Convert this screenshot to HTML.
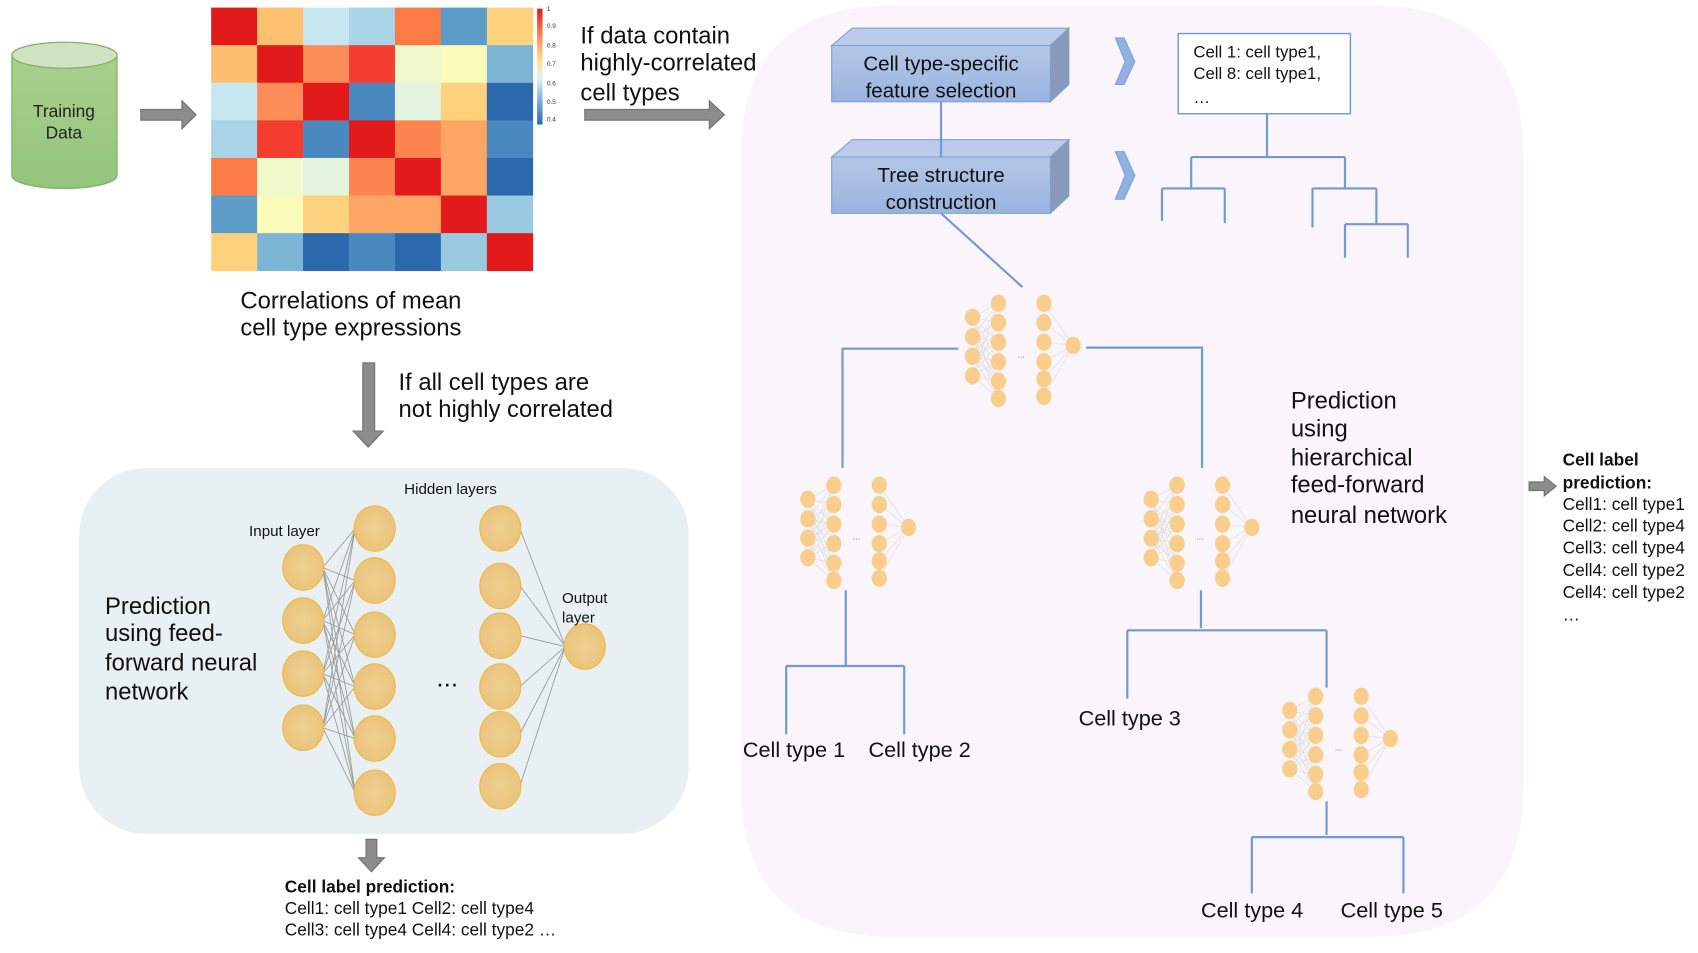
<!DOCTYPE html>
<html><head><meta charset="utf-8"><style>
html,body{margin:0;padding:0;background:#fff;}
svg{display:block;font-family:"Liberation Sans",sans-serif;}
</style></head><body>
<svg id="s" width="1698" height="953" viewBox="0 0 1568 880" preserveAspectRatio="none" xmlns="http://www.w3.org/2000/svg">
<defs>
<linearGradient id="cyl" x1="0" y1="0" x2="0" y2="1"><stop offset="0" stop-color="#a9d08e"/><stop offset="1" stop-color="#93c47d"/></linearGradient>
<linearGradient id="box" x1="0" y1="0" x2="0" y2="1"><stop offset="0" stop-color="#b3c6e7"/><stop offset="1" stop-color="#9ab4e0"/></linearGradient>
<radialGradient id="node" cx="0.5" cy="0.5" r="0.6"><stop offset="0" stop-color="#f0cf90"/><stop offset="1" stop-color="#e8c27a"/></radialGradient>
</defs>
<rect x="0" y="0" width="1568" height="880" fill="#fff"/>
<!-- panels -->
<rect x="73" y="432" width="563" height="338" rx="62" fill="#e8f0f3"/>
<path d="M824 5 H1267 Q1407 5 1407 145 V725 Q1407 865 1267 865 H824 Q684 865 684 725 V145 Q684 5 824 5 Z" fill="#f9f5fb"/>
<!-- cylinder -->
<path d="M11 51 V162 A48.5 12 0 0 0 108 162 V51" fill="url(#cyl)" stroke="#82b366" stroke-width="1.2"/>
<ellipse cx="59.5" cy="51" rx="48.5" ry="12" fill="#cfe3c3" stroke="#82b366" stroke-width="1.2"/>
<text x="59" y="108" font-size="16" text-anchor="middle" fill="#222">Training</text>
<text x="59" y="128" font-size="16" text-anchor="middle" fill="#222">Data</text>
<!-- arrows -->
<g fill="#8c8c8c" stroke="#707070" stroke-width="1">
<path d="M130 101 H168 V93 L181 106 L168 119 V111 H130 Z"/>
<path d="M540 101 H655 V93 L669 106 L655 119 V111 H540 Z"/>
<path d="M335 335 H346 V398 H354 L340 413 L326 398 H335 Z"/>
<path d="M338 775 H348 V792 H355 L343 805 L331 792 H338 Z"/>
<path d="M1412 445 H1426 V440 L1437 449 L1426 458 V453 H1412 Z"/>
</g>
<g id="heat"></g>
<!-- colorbar -->
<defs><linearGradient id="cb" x1="0" y1="0" x2="0" y2="1"><stop offset="0" stop-color="#e31a1c"/><stop offset="0.25" stop-color="#fc8d59"/><stop offset="0.45" stop-color="#fee090"/><stop offset="0.6" stop-color="#e0f3f8"/><stop offset="0.8" stop-color="#74add1"/><stop offset="1" stop-color="#2c69ac"/></linearGradient></defs>
<rect x="496" y="8" width="5" height="107" fill="url(#cb)"/>
<g font-size="6" fill="#333"><text x="505" y="10">1</text><text x="505" y="26">0.9</text><text x="505" y="44">0.8</text><text x="505" y="61">0.7</text><text x="505" y="79">0.6</text><text x="505" y="96">0.5</text><text x="505" y="112">0.4</text></g>
<g font-size="22" fill="#111">
<text x="536" y="40">If data contain</text><text x="536" y="65">highly-correlated</text><text x="536" y="93">cell types</text>
<text x="222" y="285">Correlations of mean</text><text x="222" y="310">cell type expressions</text>
<text x="368" y="360">If all cell types are</text><text x="368" y="385">not highly correlated</text>
<text x="97" y="567">Prediction</text><text x="97" y="592">using feed-</text><text x="97" y="619">forward neural</text><text x="97" y="646">network</text>
<text x="1192" y="377">Prediction</text><text x="1192" y="403">using</text><text x="1192" y="430">hierarchical</text><text x="1192" y="455">feed-forward</text><text x="1192" y="483">neural network</text>
<text x="686" y="699" font-size="20">Cell type 1</text><text x="802" y="699" font-size="20">Cell type 2</text>
<text x="996" y="670" font-size="20">Cell type 3</text>
<text x="1109" y="847" font-size="20">Cell type 4</text><text x="1238" y="847" font-size="20">Cell type 5</text>
</g>
<g font-size="14" fill="#111">
<text x="416" y="456" text-anchor="middle">Hidden layers</text>
<text x="230" y="495">Input layer</text>
<text x="519" y="557">Output</text><text x="519" y="575">layer</text>
</g>
<text x="413" y="634" font-size="24" text-anchor="middle" fill="#111">...</text>
<g font-size="16" fill="#111">
<text x="263" y="824" font-weight="bold">Cell label prediction:</text>
<text x="263" y="844">Cell1: cell type1 Cell2: cell type4</text>
<text x="263" y="864">Cell3: cell type4 Cell4: cell type2 …</text>
<text x="1443" y="430" font-weight="bold">Cell label</text>
<text x="1443" y="451" font-weight="bold">prediction:</text>
<text x="1443" y="471">Cell1: cell type1</text>
<text x="1443" y="491">Cell2: cell type4</text>
<text x="1443" y="511">Cell3: cell type4</text>
<text x="1443" y="532">Cell4: cell type2</text>
<text x="1443" y="552">Cell4: cell type2</text>
<text x="1443" y="573">…</text>
</g>
<!-- 3D boxes -->
<g stroke="#7e9fd6" stroke-width="1">
<path d="M768 42 L787 26 H987 L970 42 Z" fill="#bccbea"/>
<path d="M970 42 L987 26 V78 L970 94 Z" fill="#8899bb"/>
<rect x="768" y="42" width="202" height="52" fill="url(#box)"/>
<path d="M768 145 L787 129 H987 L970 145 Z" fill="#bccbea"/>
<path d="M970 145 L987 129 V181 L970 197 Z" fill="#8899bb"/>
<rect x="768" y="145" width="202" height="52" fill="url(#box)"/>
</g>
<g font-size="19" fill="#111" text-anchor="middle">
<text x="869" y="65">Cell type-specific</text><text x="869" y="90">feature selection</text>
<text x="869" y="168">Tree structure</text><text x="869" y="193">construction</text>
</g>
<g fill="#93b1e0" stroke="#7e9fd6"><path d="M1030 35 H1038 L1048 57 L1038 78 H1030 L1039 57 Z"/><path d="M1030 140 H1038 L1048 162 L1038 184 H1030 L1039 162 Z"/></g>
<rect x="1088" y="31" width="159" height="74" fill="#fff" stroke="#6f99d8" stroke-width="1.3"/>
<g font-size="15.5" fill="#111"><text x="1102" y="53">Cell 1: cell type1,</text><text x="1102" y="73">Cell 8: cell type1,</text><text x="1102" y="95">…</text></g>
<g fill="none" stroke="#6f99d8" stroke-width="2">
<path d="M869 94 V145"/><path d="M869 197 L944 265"/>
<path d="M1170 105 V145 M1100 145 H1242 M1100 145 V174 M1073 174 H1131 M1073 174 V204 M1131 174 V206 M1242 145 V174 M1212 174 H1271 M1212 174 V210 M1271 174 V207 M1242 207 H1300 M1242 207 V238 M1300 207 V238"/>
<path d="M885 322 H778 V432 M1003 321 H1110 V432"/>
<path d="M781 545 V615 M726 615 H835 M726 615 V678 M835 615 V678"/>
<path d="M1109 545 V580 M1041 582 H1225 M1041 582 V645 M1225 582 V635"/>
<path d="M1225 740 V771 M1156 773 H1296 M1156 773 V825 M1296 773 V825"/>
</g>
<g id="nets"></g>
<script>
var NS="http://www.w3.org/2000/svg";
function el(p,t,a){var e=document.createElementNS(NS,t);for(var k in a)e.setAttribute(k,a[k]);p.appendChild(e);return e;}
var C=[["#e31a1c","#fdc070","#c6e6f0","#a9d4e6","#fb7a45","#5c9cc9","#fed27c"],
["#fdbf6f","#e31a1c","#fc8d59","#f43d2e","#f0f9cb","#fbfbb9","#7bb6d6"],
["#c6e6f0","#fc8d59","#e31a1c","#4a89c0","#e4f4e0","#fed27c","#2c69ac"],
["#a9d4e6","#f43d2e","#4a89c0","#e31a1c","#fc8550","#fda562","#4a89c0"],
["#fb7a45","#f0f9cb","#e4f4e0","#fc8550","#e31a1c","#fda562","#2c69ac"],
["#5c9cc9","#fbfbb9","#fed27c","#fda562","#fda562","#e31a1c","#99cae0"],
["#fed27c","#7bb6d6","#2c69ac","#4a89c0","#2c69ac","#99cae0","#e31a1c"]];
var h=document.getElementById("heat"),cw=297/7,ch=243/7;
for(var r=0;r<7;r++)for(var c=0;c<7;c++)el(h,"rect",{x:195+c*cw,y:7+r*ch,width:cw+0.3,height:ch+0.3,fill:C[r][c]});
var n=document.getElementById("nets");
// big network
var inp=[524,573,622,672].map(function(y){return[280,y]}),h1=[488,536,586,634,682,732].map(function(y){return[346,y]}),
h2=[488,541,587,634,678,726].map(function(y){return[462,y]}),out=[540,597];
inp.forEach(function(a){h1.forEach(function(b){el(n,"line",{x1:a[0]+18,y1:a[1],x2:b[0]-18,y2:b[1],stroke:"#999","stroke-width":0.8})})});
h2.forEach(function(b){el(n,"line",{x1:b[0]+18,y1:b[1],x2:out[0]-18,y2:out[1],stroke:"#999","stroke-width":0.8})});
inp.concat(h1,h2,[out]).forEach(function(p){el(n,"ellipse",{cx:p[0],cy:p[1],rx:19,ry:21,fill:"url(#node)",stroke:"#f0b840","stroke-width":1})});
function mini(ox,oy){
var I=[-26,-8,10,28].map(function(d){return[ox-93,oy+d]}),A=[-39,-21,-3,15,33,49].map(function(d){return[ox-69,oy+d]}),
B=[-39,-21,-3,15,31,47].map(function(d){return[ox-27,oy+d]});
I.forEach(function(a){A.forEach(function(b){el(n,"line",{x1:a[0],y1:a[1],x2:b[0],y2:b[1],stroke:"#ddd","stroke-width":0.6})})});
B.forEach(function(b){el(n,"line",{x1:b[0],y1:b[1],x2:ox,y2:oy,stroke:"#ddd","stroke-width":0.6})});
I.concat(A,B,[[ox,oy]]).forEach(function(p){el(n,"ellipse",{cx:p[0],cy:p[1],rx:7,ry:8,fill:"#f9cd8c"})});
var t=el(n,"text",{x:ox-48,y:oy+13-2,"font-size":8,fill:"#666","text-anchor":"middle"});t.textContent="...";
}
mini(991,319);mini(839,487);mini(1156,487);mini(1284,682);
</script>
</svg>
</body></html>
